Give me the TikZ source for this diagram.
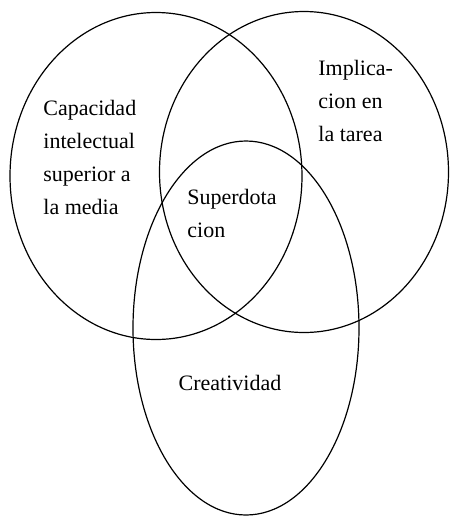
\documentclass[tikz,border=0pt]{standalone}
\usepackage{fontspec}
\setmainfont{Liberation Serif}
\newfontfamily\labelfont{Liberation Serif}
\usepackage{tikz}
\usetikzlibrary{positioning}
\usetikzlibrary{shapes}

\begin{document}
\begin{tikzpicture}[x=0.5pt, y=-0.5pt]
	\tikzset{setEllipse/.style={ellipse, draw, line width=0.6pt},
		setLabel/.style={align=left, anchor=west, inner sep=0pt, font=\labelfont\fontsize{11}{16.5}\selectfont}}
	\useasboundingbox (0,0) rectangle (450,516);

	\node[setEllipse, minimum width=146pt, minimum height=163.5pt](capacidadEllipse) at (156,176){};
	\node[setEllipse, minimum width=144.5pt, minimum height=160.5pt](implicacionEllipse) at (304,172){};
	\node[setEllipse, minimum width=113pt, minimum height=187pt](creatividadEllipse) at (246,328){};

	\node[setLabel](capacidadLabel) at (43,157){Capacidad\\intelectual\\superior a\\la media};
	\node[setLabel](implicacionLabel) at (318,101){Implica-\\cion en\\la tarea};
	\node[setLabel](superdotacionLabel) at (187,213){Superdota\\cion};
	\node[setLabel, anchor=center](creatividadLabel) at (230,383){Creatividad};
\end{tikzpicture}
\end{document}
